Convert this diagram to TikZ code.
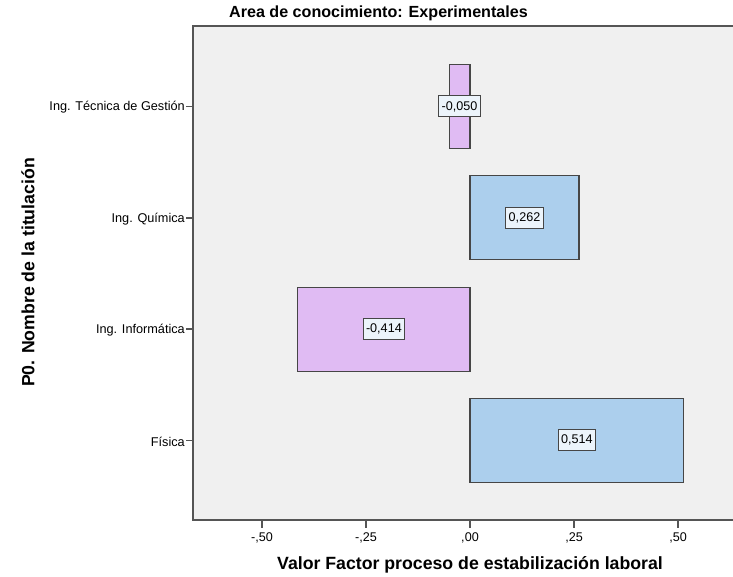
\documentclass[tikz,border=0pt]{standalone}
\usepackage{fontspec}
\setmainfont{Liberation Sans}
\definecolor{plotbg}{RGB}{240,240,240}
\definecolor{axisgray}{RGB}{85,85,85}
\definecolor{edgegray}{RGB}{70,70,70}
\definecolor{barblue}{RGB}{172,207,237}
\definecolor{barpurple}{RGB}{224,187,243}
\definecolor{boxfill}{RGB}{236,244,251}
\begin{document}
\begin{tikzpicture}[x=1pt,y=-1pt,
    axisline/.style={draw=axisgray,line width=1.6pt},
    posbar/.style={draw=edgegray,line width=1.1pt,fill=barblue},
    negbar/.style={draw=edgegray,line width=1.1pt,fill=barpurple},
    valbox/.style={draw=edgegray,line width=1pt,fill=boxfill,inner xsep=2.8pt,
        minimum height=21pt,font=\fontsize{12.6}{14}\selectfont},
    catlabel/.style={anchor=east,inner sep=1pt,font=\fontsize{12.7}{14}\selectfont},
    ticklabel/.style={font=\fontsize{12.6}{14}\selectfont},
    axistitle/.style={font=\bfseries\fontsize{17.7}{20}\selectfont}]
    \useasboundingbox (0, 0) rectangle (733, 577);

    % Draw the plot area
    \fill[plotbg] (193, 26) rectangle (733, 520);
    \draw[axisline] (733, 26) -- (193, 26) -- (193, 520) -- (733, 520);

    % Draw the title
    \node[font=\bfseries\fontsize{16.1}{18}\selectfont] (title) at (378.5, 13) {Area de conocimiento: Experimentales};

    % Draw the bars, zero at x = 470
    \draw[negbar] (449.2, 64.5) rectangle (470, 148.5);
    \node[valbox] (vtecnica) at (459.6, 106.5) {-0,050};
    \draw[posbar] (470, 175.8) rectangle (579, 259.8);
    \node[valbox] (vquimica) at (524.5, 217.8) {0,262};
    \draw[negbar] (297.8, 287.1) rectangle (470, 371.1);
    \node[valbox] (vinformatica) at (383.9, 329.1) {-0,414};
    \draw[posbar] (470, 398.4) rectangle (683.8, 482.4);
    \node[valbox] (vfisica) at (576.9, 440.4) {0,514};

    % Draw the category axis
    \draw[axisline] (186, 106.5) -- (193, 106.5);
    \node[catlabel] (tecnica) at (186, 107.5) {Ing. Técnica de Gestión};
    \draw[axisline] (186, 217.8) -- (193, 217.8);
    \node[catlabel] (quimica) at (186, 218.8) {Ing. Química};
    \draw[axisline] (186, 329.1) -- (193, 329.1);
    \node[catlabel] (informatica) at (186, 330.1) {Ing. Informática};
    \draw[axisline] (186, 440.4) -- (193, 440.4);
    \node[catlabel] (fisica) at (186, 441.4) {Física};

    % Draw the value axis
    \foreach \x/\lab in {262/-{,}50, 366/-{,}25, 470/{,}00, 574/{,}25, 678/{,}50} {
        \draw[axisline] (\x, 520) -- (\x, 528);
        \node[ticklabel] (t\x) at (\x, 537.5) {\lab};
    }

    % Draw the axis titles
    \node[axistitle] (xtitle) at (470, 565) {Valor Factor proceso de estabilización laboral};
    \node[axistitle,rotate=90] (ytitle) at (28, 272.5) {P0. Nombre de la titulación};
\end{tikzpicture}
\end{document}
